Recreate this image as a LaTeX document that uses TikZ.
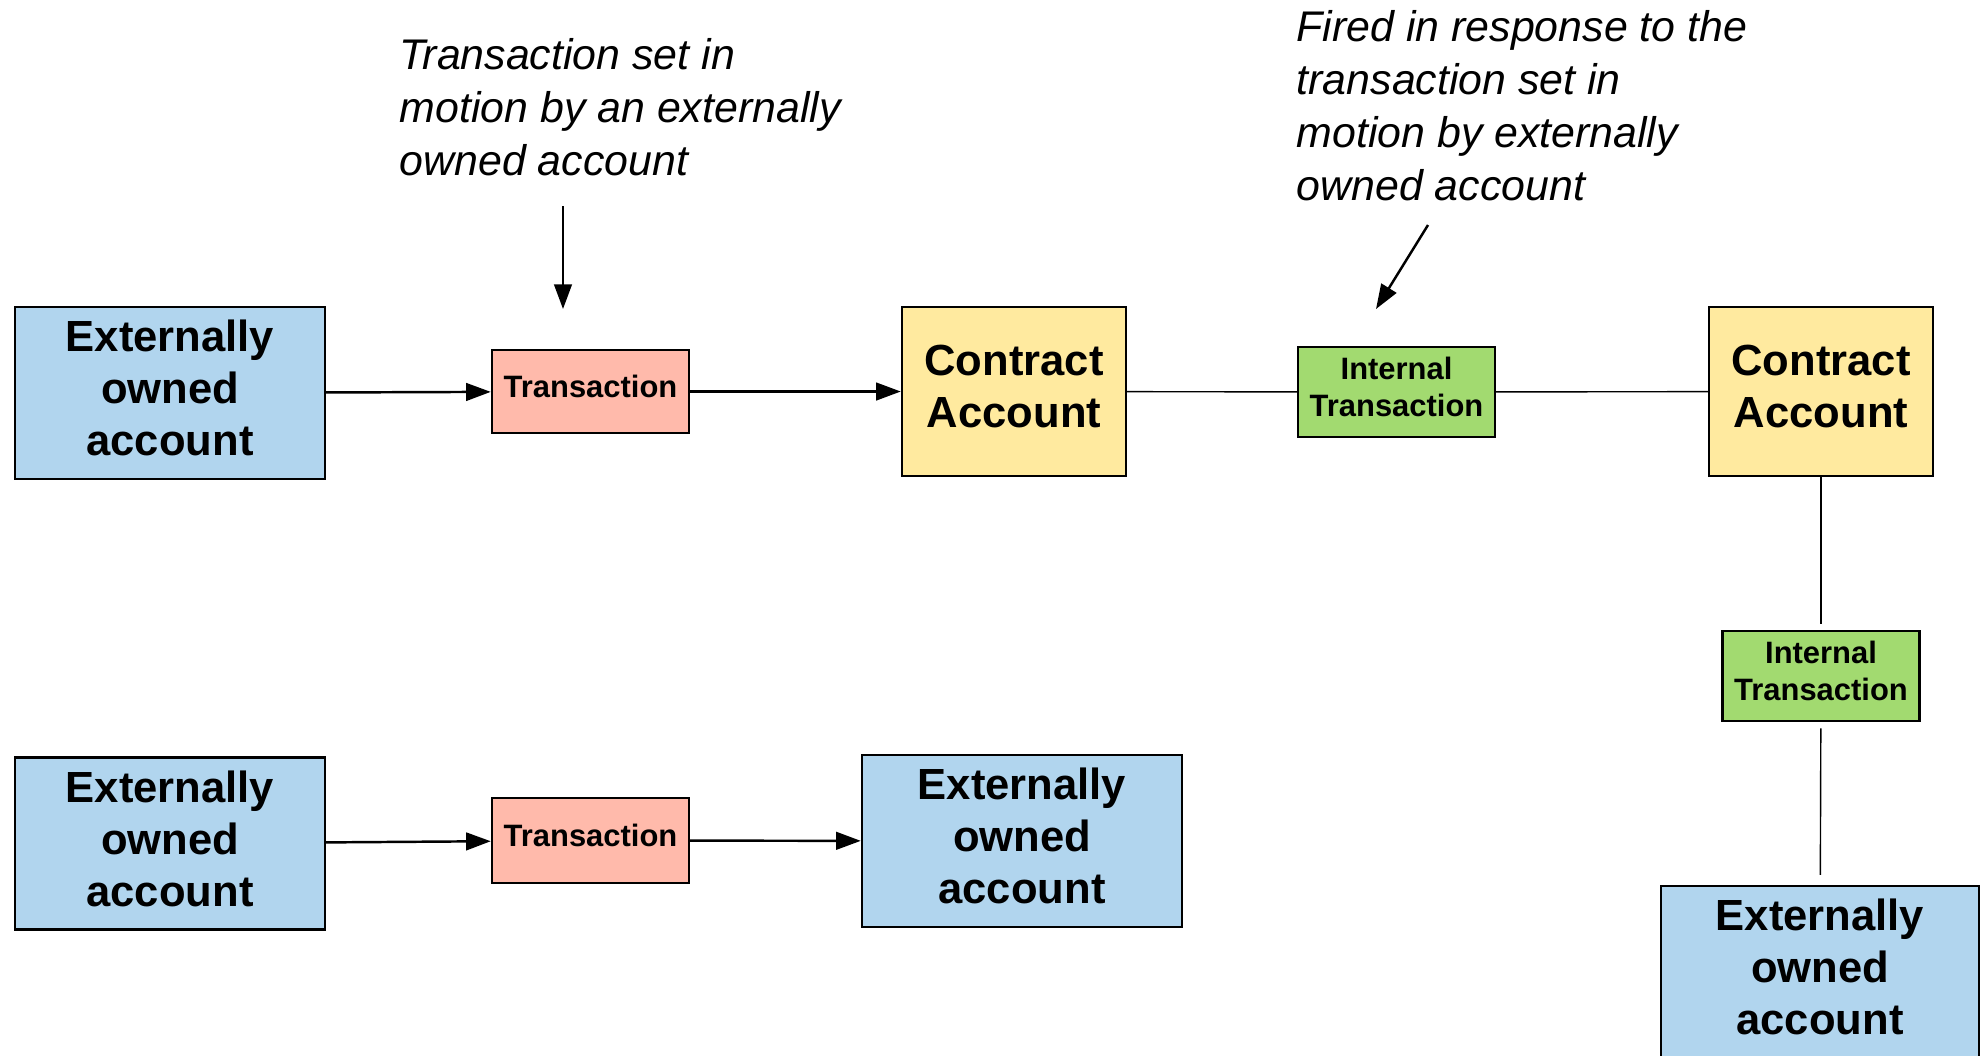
\documentclass[tikz,border=0pt]{standalone}
\usepackage{fontspec}
\setmainfont{Liberation Sans}
\usetikzlibrary{arrows.meta}
\definecolor{eoablue}{HTML}{B1D5EE}
\definecolor{cayellow}{HTML}{FFEA9F}
\definecolor{txpink}{HTML}{FFBAAB}
\definecolor{itgreen}{HTML}{A2DA70}
\tikzset{
  box/.style={draw=black, line width=0.7pt, align=center, inner sep=0pt, text depth=0.1cm},
  eoa/.style={box, fill=eoablue, minimum width=3.1cm, minimum height=1.72cm,
    font=\bfseries\fontsize{12.4}{14.8}\selectfont},
  ca/.style={box, fill=cayellow, minimum width=2.24cm, minimum height=1.69cm,
    font=\bfseries\fontsize{12.4}{14.8}\selectfont},
  tx/.style={box, fill=txpink, minimum width=1.97cm, minimum height=0.83cm,
    font=\bfseries\fontsize{8.8}{10.5}\selectfont},
  itx/.style={box, fill=itgreen, minimum width=1.97cm, minimum height=0.9cm,
    font=\bfseries\fontsize{8.8}{10.5}\selectfont},
  note/.style={align=left, inner sep=0pt, anchor=west,
    font=\itshape\fontsize{12.2}{15.1}\selectfont},
  flow/.style={line width=0.7pt, -{Triangle[length=7pt,width=5pt]}},
  link/.style={line width=0.4pt}
}
\begin{document}
\begin{tikzpicture}
\useasboundingbox (0,0) rectangle (19.8,-10.55);
%--- Top row: EOA -> transaction -> contract -> internal -> contract ---
\node[eoa] (eoaA) at (1.70,-3.93) {Externally\\owned\\account};
\node[tx] (txA) at (5.905,-3.915) {Transaction};
\node[ca] (caA) at (10.14,-3.915) {Contract\\Account};
\node[itx] (itA) at (13.965,-3.92) {Internal\\Transaction};
\node[ca] (caB) at (18.21,-3.915) {Contract\\Account};
%--- Right column, going down from the second contract ---
\node[itx] (itB) at (18.21,-6.76) {Internal\\Transaction};
\node[eoa, minimum width=3.18cm] (eoaD) at (18.20,-9.72) {Externally\\owned\\account};
%--- Bottom row: EOA -> transaction -> EOA ---
\node[eoa] (eoaB) at (1.70,-8.435) {Externally\\owned\\account};
\node[tx, minimum height=0.85cm] (txB) at (5.905,-8.405) {Transaction};
\node[eoa, minimum width=3.2cm] (eoaC) at (10.22,-8.41) {Externally\\owned\\account};
%--- Annotations ---
\node[note] (noteA) at (3.99,-1.07) {Transaction set in\\motion by an externally\\owned account};
\node[note] (noteB) at (12.96,-1.057) {Fired in response to the\\transaction set in\\motion by externally\\owned account};
\coordinate (tailA) at (5.63,-2.06);
\coordinate (tipA) at (5.63,-3.09);
\coordinate (tailB) at (14.28,-2.25);
\coordinate (tipB) at (13.76,-3.09);
% Connectors
\draw[flow] (eoaA) -- (txA);
\draw[flow] (txA) -- (caA);
\draw[link] (caA) -- (itA);
\draw[link] (itA) -- (caB);
\draw[link, shorten >=0.06cm] (caB) -- (itB);
\draw[link, shorten <=0.06cm, shorten >=0.1cm] (itB) -- (eoaD);
\draw[flow] (eoaB) -- (txB);
\draw[flow] (txB) -- (eoaC);
\draw[flow] (tailA) -- (tipA);
\draw[flow] (tailB) -- (tipB);
\end{tikzpicture}
\end{document}
